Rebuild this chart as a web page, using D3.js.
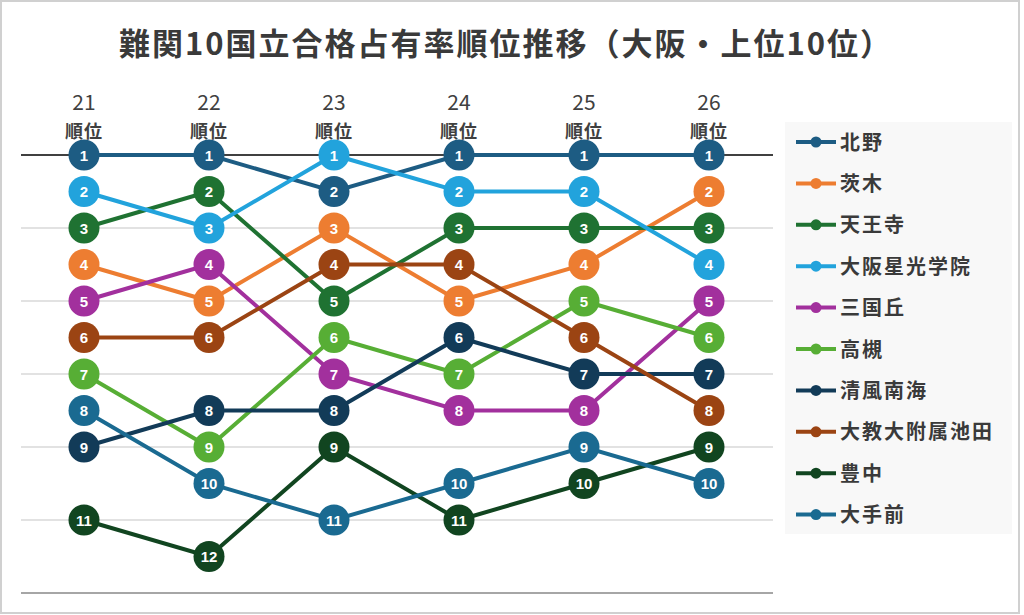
<!DOCTYPE html>
<html>
<head>
<meta charset="utf-8">
<script src="https://cdn.jsdelivr.net/npm/d3@7"></script>
<style>
  body { margin: 0; background: #fff; }
  svg { display: block; }
</style>
</head>
<body>
<div id="container"></div>
<script>
// years (columns) and schools
const years = ["21", "22", "23", "24", "25", "26"];
const schools = ["北野", "茨木", "天王寺", "大阪星光学院", "三国丘", "高槻", "清風南海", "大教大附属池田", "豊中", "大手前"];
// rank of each school per year, same order as schools
const ranks = [
  [1, 1, 2, 1, 1, 1],
  [4, 5, 3, 5, 4, 2],
  [3, 2, 5, 3, 3, 3],
  [2, 3, 1, 2, 2, 4],
  [5, 4, 7, 8, 8, 5],
  [7, 9, 6, 7, 5, 6],
  [9, 8, 8, 6, 7, 7],
  [6, 6, 4, 4, 6, 8],
  [11, 12, 9, 11, 10, 9],
  [8, 10, 11, 10, 9, 10]
];
const gridRanks = [1, 3, 5, 7, 9, 11, 13];
const colors = ["#1d5c83", "#ed7d31", "#1f7232", "#22a3dc", "#a2309d", "#57ae35", "#123b58", "#9b4413", "#114520", "#1a6a91"];

const W = 1024, H = 615;
const svg = d3.select("#container").append("svg")
  .attr("width", W).attr("height", H)
  .style("font-family", "'Noto Sans CJK JP', 'Noto Sans', sans-serif");

// outer frame
svg.append("rect")
  .attr("x", 1).attr("y", 1).attr("width", 1018).attr("height", 612)
  .attr("fill", "#fff").attr("stroke", "#d0d0d0").attr("stroke-width", 2);

const x = d3.scalePoint().domain(years).range([84, 709]);
const y = d3.scaleLinear().domain([1, 13]).range([155, 593]);

// horizontal gridlines
svg.append("g")
  .selectAll("line")
  .data(gridRanks)
  .join("line")
    .attr("x1", 21).attr("x2", 773)
    .attr("y1", d => y(d)).attr("y2", d => y(d))
    .attr("stroke", d => d === 1 ? "#404040" : (d === 13 ? "#a6a6a6" : "#d9d9d9"))
    .attr("stroke-width", d => d === 1 ? 2 : (d === 13 ? 2 : 1.5));

// title
svg.append("text")
  .attr("x", 506).attr("y", 55)
  .attr("text-anchor", "middle")
  .attr("fill", "#3a3a3a")
  .style("font-size", "31px").style("font-weight", "bold")
  .style("letter-spacing", "2px")
  .text("難関10国立合格占有率順位推移（大阪・上位10位）");

// column headers
const head = svg.append("g").selectAll("g").data(years).join("g")
  .attr("transform", d => `translate(${x(d)},0)`);
head.append("text")
  .attr("y", 110).attr("text-anchor", "middle")
  .attr("fill", "#404040").style("font-size", "21px")
  .text(d => d);
head.append("text")
  .attr("y", 138).attr("text-anchor", "middle")
  .attr("fill", "#404040").style("font-size", "18px").style("font-weight", "bold")
  .style("letter-spacing", "1px")
  .text("順位");

// series
const series = schools.map((s, i) => ({
  name: s, color: colors[i],
  pts: years.map((yr, j) => ({ yr: yr, r: ranks[i][j] }))
}));

const line = d3.line().x(d => x(d.yr)).y(d => y(d.r));

const sg = svg.append("g").selectAll("g").data(series).join("g");
sg.append("path")
  .attr("d", d => line(d.pts))
  .attr("fill", "none")
  .attr("stroke", d => d.color)
  .attr("stroke-width", 4);

series.forEach(s => {
  const g = svg.append("g");
  g.selectAll("circle").data(s.pts).join("circle")
    .attr("cx", d => x(d.yr)).attr("cy", d => y(d.r))
    .attr("r", 15.5)
    .attr("fill", s.color);
  g.selectAll("text").data(s.pts).join("text")
    .attr("x", d => x(d.yr)).attr("y", d => y(d.r) + 5.5)
    .attr("text-anchor", "middle")
    .attr("fill", "#fff")
    .style("font-family", "'Liberation Sans', Arial, sans-serif")
    .style("font-size", "15px").style("font-weight", "bold")
    .text(d => d.r);
});

// legend
svg.append("rect")
  .attr("x", 785).attr("y", 122).attr("width", 227).attr("height", 412)
  .attr("fill", "#f8f8f8");
const lg = svg.append("g").selectAll("g").data(series).join("g")
  .attr("transform", (d, i) => `translate(0,${142 + i * 41.4})`);
lg.append("line")
  .attr("x1", 796).attr("x2", 836)
  .attr("stroke", d => d.color).attr("stroke-width", 4);
lg.append("circle")
  .attr("cx", 816).attr("r", 5.5)
  .attr("fill", d => d.color);
lg.append("text")
  .attr("x", 840).attr("y", 7.5)
  .attr("fill", "#3a3a3a")
  .style("font-size", "20px").style("font-weight", "bold")
  .style("letter-spacing", "2px")
  .text(d => d.name);
</script>
</body>
</html>
